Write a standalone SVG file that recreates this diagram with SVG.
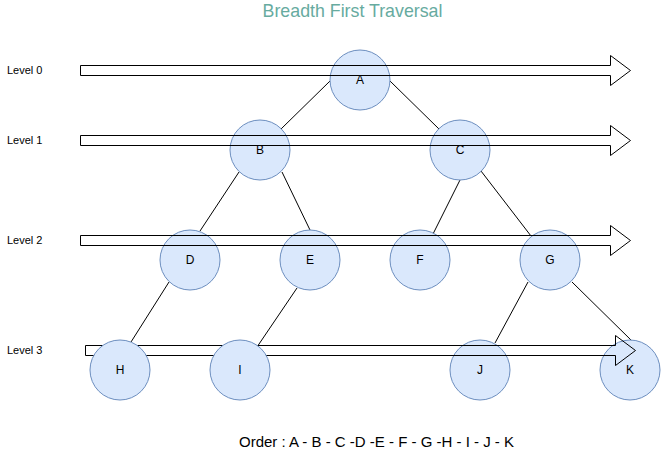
<svg xmlns="http://www.w3.org/2000/svg" width="661" height="451" viewBox="0 0 661 451">
<style>
.node circle{fill:#dae8fc;stroke:#6c8ebf;stroke-width:1}
.node text{font-family:"Liberation Sans",Arial,sans-serif;font-size:12px;fill:#000;text-anchor:middle}
.lvl{font-family:"Liberation Sans",Arial,sans-serif;font-size:11px;fill:#000}
.arrow{fill:none;stroke:#000;stroke-width:1}
.edge{stroke:#000;stroke-width:1;fill:none}
</style>
<rect width="661" height="451" fill="#fff"/>
<text x="352.5" y="17" font-family="'Liberation Sans',Arial,sans-serif" font-size="17.8" fill="#67AB9F" text-anchor="middle">Breadth First Traversal</text>
<g id="labels">
<text class="lvl" x="7" y="74">Level 0</text>
<text class="lvl" x="7" y="144">Level 1</text>
<text class="lvl" x="7" y="244">Level 2</text>
<text class="lvl" x="7" y="354">Level 3</text>
</g>
<g id="connectors">
<line class="edge" x1="330" y1="81" x2="281" y2="129"/>
<line class="edge" x1="390" y1="81" x2="439" y2="129"/>
<line class="edge" x1="239" y1="172" x2="200" y2="231"/>
<line class="edge" x1="282" y1="172" x2="310" y2="230"/>
<line class="edge" x1="460" y1="180" x2="433" y2="234"/>
<line class="edge" x1="481" y1="171" x2="531" y2="236"/>
<line class="edge" x1="169" y1="282" x2="131" y2="342"/>
<line class="edge" x1="297" y1="288" x2="257" y2="347"/>
<line class="edge" x1="528" y1="282" x2="495" y2="343"/>
<line class="edge" x1="572" y1="282" x2="632" y2="341"/>
</g>
<g id="node-J" class="node"><circle cx="480" cy="370" r="30"/><text x="480" y="374">J</text></g>
<g id="node-K" class="node"><circle cx="630" cy="370" r="30"/><text x="630" y="374">K</text></g>
<g id="arrow-level3"><polygon class="arrow" points="85.5,345.5 615.5,345.5 615.5,335.5 635.5,350.5 615.5,365.5 615.5,355.5 85.5,355.5"/></g>
<g id="node-H" class="node"><circle cx="120" cy="370" r="30"/><text x="120" y="374">H</text></g>
<g id="node-I" class="node"><circle cx="240" cy="370" r="30"/><text x="240" y="374">I</text></g>
<g id="node-A" class="node"><circle cx="360" cy="80" r="30"/><text x="360" y="84">A</text></g>
<g id="node-B" class="node"><circle cx="260" cy="150" r="30"/><text x="260" y="154">B</text></g>
<g id="node-C" class="node"><circle cx="460" cy="150" r="30"/><text x="460" y="154">C</text></g>
<g id="node-D" class="node"><circle cx="190" cy="260" r="30"/><text x="190" y="264">D</text></g>
<g id="node-E" class="node"><circle cx="310" cy="260" r="30"/><text x="310" y="264">E</text></g>
<g id="node-F" class="node"><circle cx="420" cy="260" r="30"/><text x="420" y="264">F</text></g>
<g id="node-G" class="node"><circle cx="550" cy="260" r="30"/><text x="550" y="264">G</text></g>
<g id="arrows">
<polygon class="arrow" points="80.5,65.5 610.5,65.5 610.5,55.5 630.5,70.5 610.5,85.5 610.5,75.5 80.5,75.5"/>
<polygon class="arrow" points="80.5,135.5 610.5,135.5 610.5,125.5 630.5,140.5 610.5,155.5 610.5,145.5 80.5,145.5"/>
<polygon class="arrow" points="80.5,235.5 610.5,235.5 610.5,225.5 630.5,240.5 610.5,255.5 610.5,245.5 80.5,245.5"/>
</g>
<text x="376.5" y="447" font-family="'Liberation Sans',Arial,sans-serif" font-size="15" fill="#000" text-anchor="middle">Order : A - B - C -D -E - F - G -H - I - J - K</text>
</svg>
